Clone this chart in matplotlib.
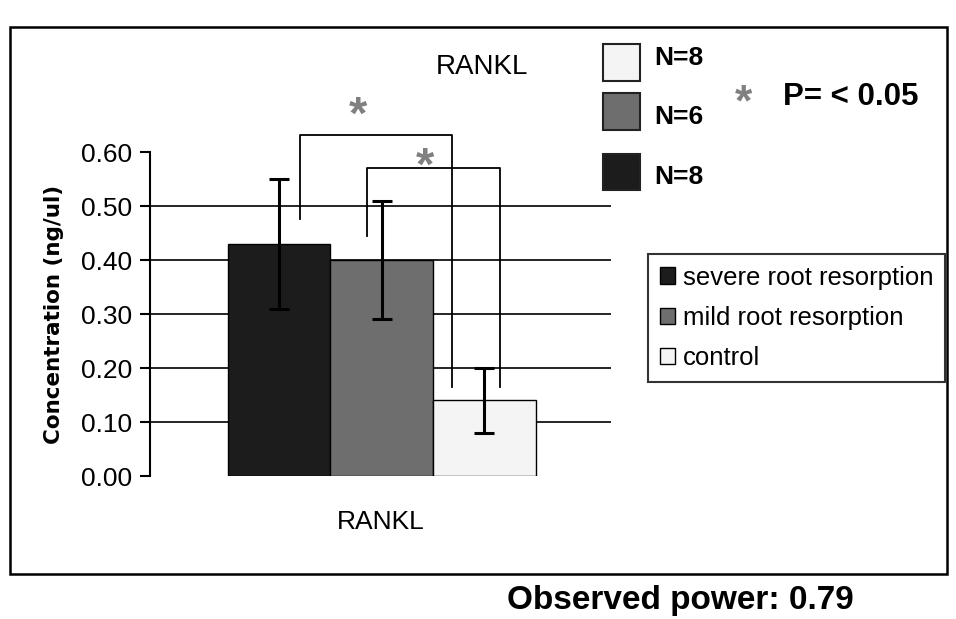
import numpy as np
import matplotlib
matplotlib.use('Agg')
import matplotlib.pyplot as plt
from matplotlib.patches import Rectangle, Patch

# data
groups = ['severe root resorption', 'mild root resorption', 'control']
means = [0.43, 0.40, 0.14]
err_lo = [0.31, 0.29, 0.08]
err_hi = [0.55, 0.51, 0.20]
colors = ['#1c1c1c', '#6e6e6e', '#f4f4f4']
n_labels = ['N=8', 'N=6', 'N=8']
yticks = [0.0, 0.1, 0.2, 0.3, 0.4, 0.5, 0.6]

# significance brackets: (x_left, x_right, y_top, y_left_end, y_right_end)
brackets = [(-0.35, 0.31, 0.631, 0.476, 0.165),
            (-0.06, 0.52, 0.570, 0.444, 0.165)]
stars = [(-0.098, 0.685), (0.193, 0.59)]

plt.rcParams['font.family'] = ['Liberation Sans', 'DejaVu Sans']

W, H = 956, 619
fig = plt.figure(figsize=(W / 100, H / 100), dpi=100)

def fx(px):
    return px / W
def fy(py):
    return 1 - py / H

ax = fig.add_axes([fx(150), fy(476), fx(611) - fx(150), fy(152) - fy(476)])
bw = 0.445
xs = np.array([-1, 0, 1]) * bw + 0.005
yerr = np.array([np.array(means) - np.array(err_lo), np.array(err_hi) - np.array(means)])
ax.bar(xs, means, width=bw, color=colors, edgecolor='black', linewidth=1.0, zorder=3)
ax.errorbar(xs, means, yerr=yerr, fmt='none', ecolor='black', elinewidth=2.2,
            capsize=7, capthick=2.2, zorder=4)
ax.set_xlim(-1, 1)
ax.set_ylim(0, 0.6)
ax.set_yticks(yticks)
ax.set_yticklabels(['%.2f' % t for t in yticks], fontsize=19)
for t in yticks[1:-1]:
    ax.axhline(t, color='black', lw=1.2, zorder=1)
ax.set_xticks([])
for s in ['top', 'right', 'bottom']:
    ax.spines[s].set_visible(False)
ax.spines['left'].set_linewidth(1.5)
ax.tick_params(axis='y', length=7, width=1.5, pad=6)
ax.set_ylabel('Concentration (ng/ul)', fontsize=15.5, fontweight='bold',
              family='DejaVu Sans', labelpad=12)
ax.text(0.0, -0.085, 'RANKL', ha='center', va='center', fontsize=19,
        transform=ax.transData, clip_on=False)
ax.axhline(0, color='#dddddd', lw=0.8, zorder=2)

for (xl, xr, yt, yl, yr) in brackets:
    ax.plot([xl, xl, xr, xr], [yl, yt, yt, yr], color='black', lw=1.3,
            clip_on=False, zorder=5)
for sx, sy in stars:
    ax.text(sx, sy - 0.02, '*', color='#808080', fontsize=34, fontweight='bold',
            ha='center', va='center', clip_on=False)

# title
fig.text(fx(482), fy(67), 'RANKL', ha='center', va='center', fontsize=20)

# N boxes
box_y = [(44, 81), (93, 130), (154, 190)]
box_cols = [colors[2], colors[1], colors[0]]
for (y0, y1), c in zip(box_y, box_cols):
    fig.patches.append(Rectangle((fx(603), fy(y1)), fx(640) - fx(603), fy(y0) - fy(y1),
                                 transform=fig.transFigure, facecolor=c,
                                 edgecolor='#222222', lw=1.5))
yl_pos = [58, 117, 177]
for yp, lab in zip(yl_pos, n_labels):
    fig.text(fx(654), fy(yp), lab, ha='left', va='center', fontsize=19, fontweight='bold')

fig.text(fx(743), fy(104), '*', ha='center', va='center', fontsize=32,
         fontweight='bold', color='#808080')
fig.text(fx(783), fy(97), 'P= < 0.05', ha='left', va='center', fontsize=22.5,
         fontweight='bold')

handles = [Patch(facecolor=c, edgecolor='black', lw=1) for c in colors]
leg = fig.legend(handles, groups, loc='upper left',
                 bbox_to_anchor=(fx(648), fy(254)), bbox_transform=fig.transFigure,
                 fontsize=18.5, frameon=True, fancybox=False, edgecolor='black',
                 handlelength=0.6, handleheight=0.6, handletextpad=0.3,
                 borderpad=0.45, labelspacing=0.63, borderaxespad=0)
leg.get_frame().set_linewidth(1.5)

fig.text(fx(507), fy(601), 'Observed power: 0.79', ha='left', va='center',
         fontsize=24, fontweight='bold')

fig.patches.append(Rectangle((fx(10), fy(574)), fx(947) - fx(10), fy(27) - fy(574),
                             transform=fig.transFigure, facecolor='none',
                             edgecolor='black', lw=1.8))

fig.savefig('out.png', dpi=100)
